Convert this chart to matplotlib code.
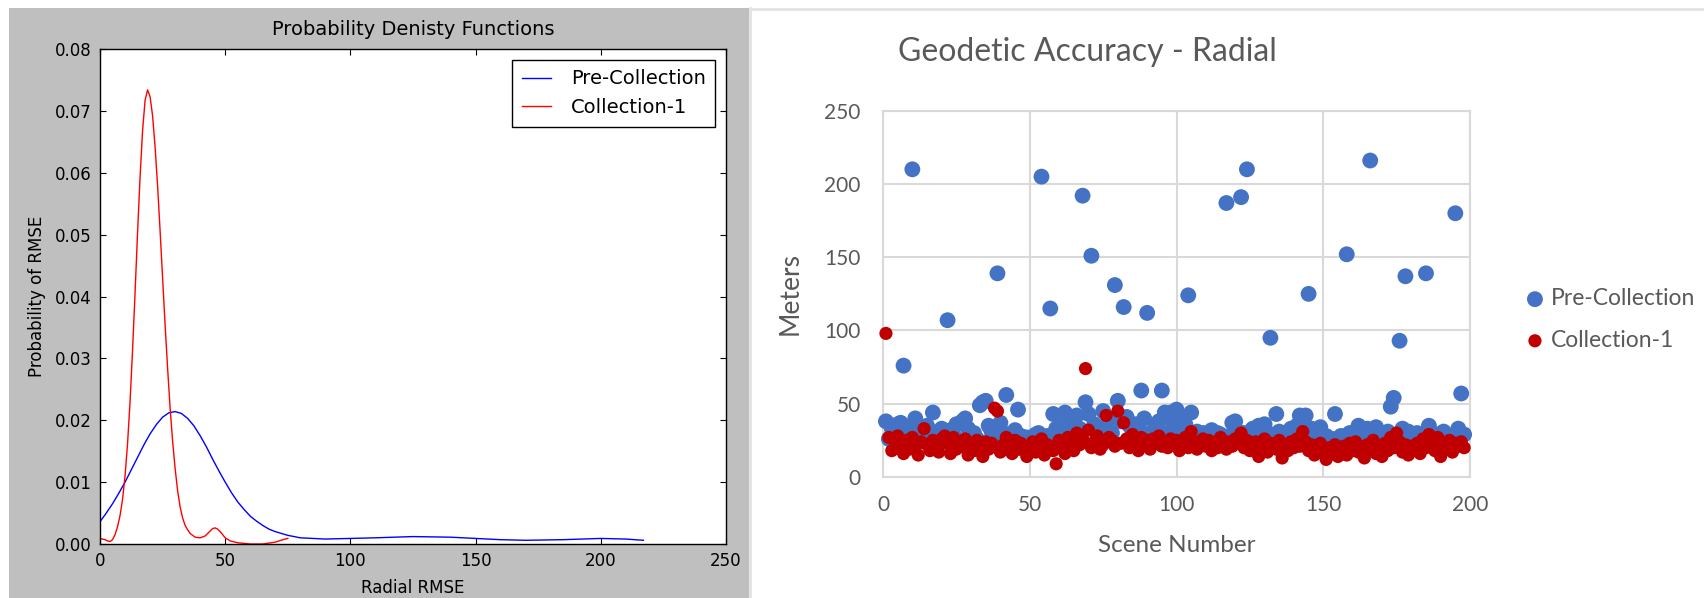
import matplotlib
matplotlib.use("Agg")
import matplotlib.pyplot as plt
from matplotlib.patches import Rectangle
from matplotlib.lines import Line2D

# ---- left panel: density curves ----
pre_x = [0, 2.5, 5, 7.5, 10, 12.5, 15, 17.5, 20, 22.5, 25, 27.5, 30, 32.5, 35,
         37.5, 40, 42.5, 45, 47.5, 50, 52.5, 55, 57.5, 60, 62.5, 65, 67.5, 70,
         75, 80, 85, 90, 100, 110, 125, 140, 150, 160, 170, 185, 200, 210, 217]
pre_y = [0.0036, 0.0050, 0.0065, 0.0082, 0.0100, 0.0120, 0.0140, 0.0160,
         0.0178, 0.0193, 0.0205, 0.0212, 0.0214, 0.0211, 0.0203, 0.0191,
         0.0175, 0.0157, 0.0137, 0.0118, 0.0100, 0.0083, 0.0068, 0.0056,
         0.0045, 0.0037, 0.0030, 0.0024, 0.0020, 0.0014, 0.0010, 0.0009,
         0.0008, 0.0009, 0.0010, 0.0012, 0.0011, 0.0009, 0.0007, 0.0006,
         0.0007, 0.0009, 0.0008, 0.0006]

col_x = [0, 1, 2, 3, 4, 5, 6, 7, 8, 9, 10, 11, 12, 13, 14, 15, 16, 17, 18,
         19, 20, 21, 22, 23, 24, 25, 26, 27, 28, 29, 30, 31, 32, 33, 34, 35,
         36, 38, 40, 42, 44, 45, 46, 47, 48, 50, 52, 55, 60, 65, 70, 73, 75]
col_y = [0.0009, 0.0008, 0.0007, 0.0005, 0.0004, 0.0007, 0.0015, 0.0028,
         0.0046, 0.0072, 0.0110, 0.0162, 0.0230, 0.0313, 0.0406, 0.0503,
         0.0593, 0.0668, 0.0717, 0.0734, 0.0723, 0.0692, 0.0642, 0.0579,
         0.0506, 0.0430, 0.0354, 0.0284, 0.0220, 0.0166, 0.0122, 0.0086,
         0.0060, 0.0042, 0.0030, 0.0023, 0.0017, 0.0011, 0.0010, 0.0013,
         0.0021, 0.0025, 0.0026, 0.0024, 0.0020, 0.0010, 0.0005, 0.0002,
         0.0000, 0.0000, 0.0003, 0.0007, 0.0009]

# ---- right panel: radial accuracy per scene ----
scenes = list(range(1, 199))
pre_collection = [
    38, 26, 33, 30, 36, 37, 76, 29, 34, 210,
    40, 24, 31, 28, 35, 22, 44, 30, 27, 33,
    25, 107, 32, 29, 36, 24, 38, 40, 33, 27,
    30, 26, 49, 51, 52, 35, 31, 28, 139, 37,
    30, 56, 26, 18, 32, 46, 28, 22, 27, 24,
    21, 29, 30, 205, 25, 28, 115, 43, 33, 26,
    35, 44, 28, 37, 24, 42, 33, 192, 51, 43,
    151, 36, 30, 28, 45, 34, 40, 30, 131, 52,
    38, 116, 41, 35, 29, 36, 33, 59, 40, 112,
    30, 28, 35, 38, 59, 44, 30, 44, 37, 46,
    33, 40, 36, 124, 44, 29, 31, 27, 30, 25,
    28, 32, 27, 30, 29, 24, 187, 28, 37, 38,
    31, 191, 30, 210, 28, 33, 26, 35, 30, 36,
    24, 95, 29, 43, 31, 27, 30, 25, 33, 28,
    35, 42, 40, 42, 125, 33, 27, 30, 34, 24,
    28, 22, 26, 43, 25, 28, 23, 152, 30, 26,
    29, 35, 27, 24, 33, 216, 30, 34, 28, 25,
    26, 31, 48, 54, 29, 93, 33, 137, 31, 28,
    24, 30, 27, 26, 139, 35, 30, 26, 29, 25,
    31, 27, 24, 28, 180, 33, 57, 29]
collection_1 = [
    98, 27, 18, 20, 28, 23, 16, 25, 19, 27,
    21, 15, 24, 33, 22, 18, 25, 20, 17, 26,
    28, 23, 16, 27, 19, 24, 21, 26, 15, 22,
    18, 25, 20, 14, 24, 19, 23, 47, 45, 17,
    22, 27, 20, 16, 25, 19, 23, 18, 14, 21,
    24, 17, 20, 26, 15, 22, 19, 18, 9, 25,
    21, 16, 27, 23, 18, 30, 22, 26, 74, 32,
    20, 24, 28, 19, 22, 42, 27, 25, 21, 45,
    23, 37, 26, 20, 29, 24, 18, 27, 22, 25,
    19, 26, 23, 28, 21, 24, 20, 26, 22, 25,
    18, 23, 27, 20, 31, 24, 19, 22, 26, 21,
    25, 18, 23, 20, 27, 22, 19, 24, 21, 26,
    23, 30, 20, 25, 18, 22, 24, 14, 20, 26,
    17, 23, 21, 19, 25, 13, 22, 18, 24, 20,
    26, 21, 31, 24, 18, 22, 15, 19, 23, 17,
    12, 20, 16, 22, 14, 19, 21, 15, 23, 18,
    24, 17, 20, 13, 22, 19, 25, 16, 21, 14,
    23, 18, 27, 20, 30, 24, 17, 22, 15, 21,
    19, 23, 16, 26, 20, 29, 24, 18, 27, 14,
    22, 19, 25, 17, 23, 21, 24, 20]

W, H = 1704, 598
fig = plt.figure(figsize=(W / 100, H / 100), dpi=100, facecolor="white")

# grey backdrop of the left (matplotlib classic) screenshot
fig.patches.append(Rectangle((9 / W, 0), 740 / W, 1 - 8 / H, transform=fig.transFigure,
                             facecolor="#bfbfbf", edgecolor="none", zorder=-5))
fig.add_artist(Line2D([750 / W, 750 / W], [0, 1 - 8 / H], transform=fig.transFigure,
                      color="#e3e3e3", lw=2, zorder=-4))
fig.add_artist(Line2D([750 / W, 1], [1 - 9 / H, 1 - 9 / H], transform=fig.transFigure,
                      color="#e3e3e3", lw=2, zorder=-4))

# ---------------- left: PDFs ----------------
ax1 = fig.add_axes([100 / W, 1 - 544 / H, 626 / W, 495 / H], zorder=2)
ax1.set_facecolor("white")
ax1.plot(pre_x, pre_y, color="#0000ff", lw=1.0, label="Pre-Collection")
ax1.plot(col_x, col_y, color="#ff0000", lw=1.0, label="Collection-1")
ax1.set_xlim(0, 250)
ax1.set_ylim(0, 0.08)
ax1.set_xticks([0, 50, 100, 150, 200, 250])
ax1.set_yticks([0, 0.01, 0.02, 0.03, 0.04, 0.05, 0.06, 0.07, 0.08])
ax1.set_yticklabels(["0.00", "0.01", "0.02", "0.03", "0.04", "0.05", "0.06", "0.07", "0.08"])
ax1.tick_params(direction="in", top=True, right=True, length=4, labelsize=12, pad=6)
for s in ax1.spines.values():
    s.set_linewidth(1.0)
ax1.set_title("Probability Denisty Functions", fontsize=14, pad=10)
ax1.set_xlabel("Radial RMSE", fontsize=12, labelpad=6)
ax1.set_ylabel("Probability of RMSE", fontsize=12, labelpad=6)
leg1 = ax1.legend(loc="upper right", fontsize=14, fancybox=False, framealpha=1,
                  edgecolor="black", borderaxespad=0.55, handlelength=1.5,
                  handletextpad=1.0, borderpad=0.5)
leg1.get_frame().set_linewidth(1.0)

# ---------------- right: Excel style scatter ----------------
txt = "#595959"
fam = ["Lato", "DejaVu Sans"]
ax2 = fig.add_axes([883 / W, 1 - 477 / H, 587 / W, 366.3 / H], zorder=2)
ax2.scatter(scenes, pre_collection, s=130, color="#4472c4", edgecolors="none",
            label="Pre-Collection", zorder=3, clip_on=False)
ax2.scatter(scenes, collection_1, s=90, color="#c00000", edgecolors="none",
            label="Collection-1", zorder=4, clip_on=False)
ax2.set_xlim(0, 200)
ax2.set_ylim(0, 250)
ax2.set_xticks([0, 50, 100, 150, 200])
ax2.set_yticks([0, 50, 100, 150, 200, 250])
ax2.grid(True, color="#d9d9d9", lw=1.5, zorder=0)
ax2.set_axisbelow(True)
for s in ax2.spines.values():
    s.set_color("#d9d9d9")
    s.set_linewidth(1.5)
ax2.tick_params(length=0, labelsize=15, labelcolor=txt, pad=13)
ax2.tick_params(axis="y", pad=16)
for lab in ax2.get_xticklabels() + ax2.get_yticklabels():
    lab.set_family(fam)
ax2.set_xlabel("Scene Number", fontsize=17.5, color=txt, family=fam, labelpad=14)
ax2.set_ylabel("Meters", fontsize=19, color=txt, family=fam, labelpad=16)
fig.text(1087 / W, 1 - 52 / H, "Geodetic Accuracy - Radial", fontsize=23, color=txt,
         family=fam, ha="center", va="center")
leg2 = ax2.legend(loc="center left", bbox_to_anchor=(1.095, 0.43), frameon=False,
                  handlelength=0.8, handletextpad=0.3, labelspacing=0.9,
                  borderaxespad=0, borderpad=0, prop={"family": fam, "size": 16.5})
for t in leg2.get_texts():
    t.set_color(txt)

fig.savefig("out.png", dpi=100, facecolor="white")
